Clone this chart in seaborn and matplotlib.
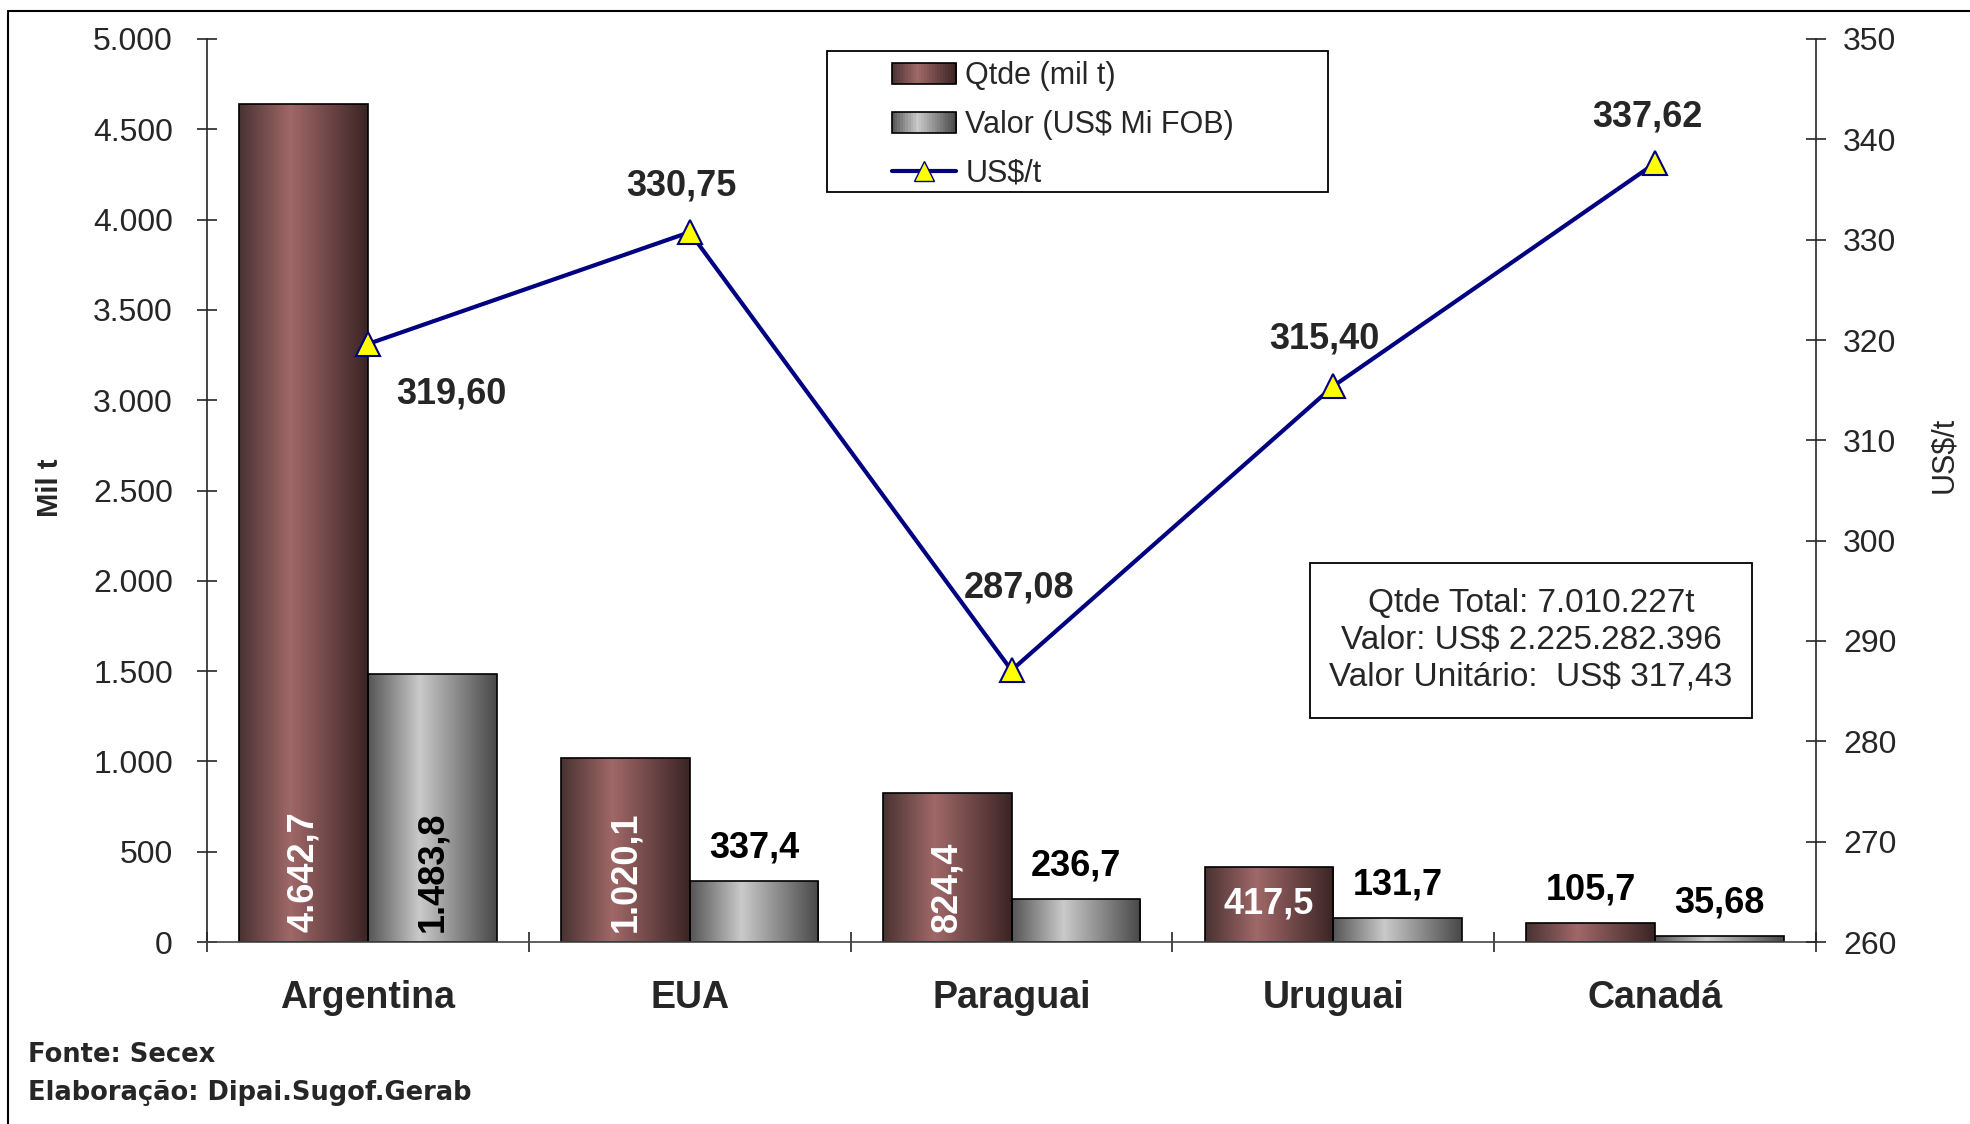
import numpy as np
import pandas as pd
import matplotlib
matplotlib.use("Agg")
import matplotlib.pyplot as plt
from matplotlib.colors import LinearSegmentedColormap
from matplotlib.patches import Rectangle, Patch
from matplotlib.lines import Line2D
from matplotlib.legend_handler import HandlerBase
from matplotlib.ticker import FuncFormatter, FixedLocator
import seaborn as sns

# ---------------------------------------------------------------
#   Exportacoes por destino: quantidade, valor e preco medio
# ---------------------------------------------------------------

paises = ["Argentina", "EUA", "Paraguai", "Uruguai", "Canadá"]
qtde = [4642.7, 1020.1, 824.4, 417.5, 105.7]          # mil t
valor = [1483.8, 337.4, 236.7, 131.7, 35.68]          # US$ Mi FOB
preco = [319.60, 330.75, 287.08, 315.40, 337.62]      # US$/t

serie_labels = ["Qtde (mil t)", "Valor (US$ Mi FOB)", "US$/t"]
caixa_texto = ["Qtde Total: 7.010.227t",
               "Valor: US$ 2.225.282.396",
               "Valor Unitário:  US$ 317,43"]
fonte_texto = ["Fonte: Secex", "Elaboração: Dipai.Sugof.Gerab"]

df = pd.DataFrame({
    "pais": paises * 2,
    "valor": qtde + valor,
    "serie": [serie_labels[0]] * len(paises) + [serie_labels[1]] * len(paises),
})

sns.set_style("ticks")
plt.rcParams["font.family"] = ["Liberation Sans", "DejaVu Sans"]

W, H = 1970, 1124
fig = plt.figure(figsize=(W / 100, H / 100), dpi=100)
ax = fig.add_axes([207 / W, 1 - 942 / H, 1609 / W, 903 / H])

cmap_qtde = LinearSegmentedColormap.from_list(
    "qtde", [(0, "#4a3232"), (0.4, "#a06868"), (1, "#3b2424")])
cmap_valor = LinearSegmentedColormap.from_list(
    "valor", [(0, "#555555"), (0.4, "#cacaca"), (1, "#484848")])

sns.barplot(data=df, x="pais", y="valor", hue="serie",
            palette=["#8a5555", "#a8a8a8"], width=0.8,
            edgecolor="black", linewidth=1.2, errorbar=None,
            legend=False, ax=ax, zorder=2)

# gradient fill on each bar
grad = np.linspace(0, 1, 256).reshape(1, -1)
for cont, cmap in zip(ax.containers, [cmap_qtde, cmap_valor]):
    for bar in cont:
        x0, y0 = bar.get_xy()
        w, h = bar.get_width(), bar.get_height()
        im = ax.imshow(grad, extent=[x0, x0 + w, y0, y0 + h], aspect="auto",
                       cmap=cmap, zorder=2.1, interpolation="bilinear")
        im.set_clip_path(bar)
        bar.set_facecolor("none")
        bar.set_zorder(2.2)

ax.set_xlim(-0.5, len(paises) - 0.5)
ax.set_ylim(0, 5000)
ax.set_aspect("auto")
ax.set_xlabel("")
ax.set_ylabel("Mil t", fontsize=21, fontweight="bold")
ax.yaxis.set_label_coords(-(207 - 64) / 1609, 1 - (488 - 39) / 903)
ax.set_yticks(np.arange(0, 5001, 500))
ax.yaxis.set_major_formatter(FuncFormatter(lambda v, p: f"{v:,.0f}".replace(",", ".")))
ax.tick_params(axis="y", direction="inout", length=15, width=1.2,
               labelsize=23, pad=17)

# category ticks: marks between groups, labels at centers
ax.xaxis.set_major_locator(FixedLocator(np.arange(-0.5, len(paises), 1.0)))
ax.xaxis.set_minor_locator(FixedLocator(np.arange(len(paises))))
ax.set_xticklabels([], minor=False)
ax.set_xticklabels(paises, minor=True, fontsize=27, fontweight="bold")
ax.tick_params(axis="x", which="major", direction="inout", length=15, width=1.2)
ax.tick_params(axis="x", which="minor", length=0, pad=27)

for s in ["top", "right"]:
    ax.spines[s].set_visible(False)
ax.spines["left"].set_linewidth(1.2)
ax.spines["bottom"].set_linewidth(1.2)
ax.spines["bottom"].set_color("#444444")

# bar value labels
def fmt_br(v):
    return f"{v:,}".replace(",", "#").replace(".", ",").replace("#", ".")

for cont, cor_in in zip(ax.containers, ["white", "black"]):
    for bar in cont:
        h = bar.get_height()
        xc = bar.get_x() + bar.get_width() / 2
        txt = fmt_br(h)
        if h >= 800:
            ax.annotate(txt, (xc, 0), xytext=(0, 10), textcoords="offset pixels",
                        rotation=90, ha="center", va="bottom", color=cor_in,
                        fontsize=26, fontweight="bold", zorder=5)
        elif h >= 400:
            ax.annotate(txt, (xc, h / 2), ha="center", va="center", color=cor_in,
                        fontsize=26, fontweight="bold", zorder=5)
        else:
            ax.annotate(txt, (xc, h), xytext=(0, 33), textcoords="offset pixels",
                        ha="center", va="center", color="black",
                        fontsize=26, fontweight="bold", zorder=5)

# price line on the secondary axis
ax2 = ax.twinx()
sns.lineplot(x=paises, y=preco, ax=ax2, sort=False, color="#000080",
             linewidth=3, marker="^", markersize=17, markerfacecolor="#ffff00",
             markeredgecolor="#000080", markeredgewidth=1.5, zorder=4)
ax2.set_ylim(260, 350)
ax2.set_yticks(np.arange(260, 351, 10))
ax2.set_ylabel("US$/t", fontsize=22)
ax2.yaxis.set_label_coords(1 + (1929 - 1816) / 1609, 1 - (455 - 39) / 903)
ax2.tick_params(axis="y", direction="inout", length=15, width=1.2,
                labelsize=23, pad=12)
for s in ["top", "left", "bottom"]:
    ax2.spines[s].set_visible(False)
ax2.spines["right"].set_linewidth(1.2)

offsets = [(83, -50), (-8, 46), (8, 82), (-9, 47), (-8, 46)]
for i, (p, off) in enumerate(zip(preco, offsets)):
    ax2.annotate(f"{p:.2f}".replace(".", ","), (i, p), xytext=off,
                 textcoords="offset pixels", ha="center", va="center",
                 fontsize=26, fontweight="bold", zorder=6)


# legend with gradient swatches
class GradientHandler(HandlerBase):
    def __init__(self, cmap):
        super().__init__()
        self.cmap = cmap

    def create_artists(self, legend, orig_handle, xdescent, ydescent,
                       width, height, fontsize, trans):
        n = 24
        arts = []
        for k in range(n):
            r = Rectangle((-xdescent + width * k / n, -ydescent), width / n + 0.3,
                          height, facecolor=self.cmap((k + 0.5) / n),
                          edgecolor="none", transform=trans)
            arts.append(r)
        arts.append(Rectangle((-xdescent, -ydescent), width, height,
                              facecolor="none", edgecolor="black", lw=1.2,
                              transform=trans))
        return arts


h_qtde = Patch(label=serie_labels[0])
h_valor = Patch(label=serie_labels[1])
h_line = Line2D([], [], color="#000080", lw=3, marker="^", markersize=14,
                markerfacecolor="#ffff00", markeredgecolor="#000080",
                label=serie_labels[2])

fig.patches.append(Rectangle((827 / W, 1 - 192 / H), (1328 - 827) / W, (192 - 51) / H,
                             transform=fig.transFigure, facecolor="white",
                             edgecolor="black", lw=1.3, zorder=7))
leg = fig.legend(handles=[h_qtde, h_valor, h_line],
                 handler_map={h_qtde: GradientHandler(cmap_qtde),
                              h_valor: GradientHandler(cmap_valor)},
                 loc="upper left", bbox_to_anchor=(892 / W, 1 - 61 / H),
                 frameon=False, fontsize=22, handlelength=2.1,
                 handletextpad=0.3, labelspacing=0.62, borderpad=0,
                 borderaxespad=0)
leg.set_zorder(8)

# summary box
fig.patches.append(Rectangle((1310 / W, 1 - 718 / H), (1752 - 1310) / W, (718 - 563) / H,
                             transform=fig.transFigure, facecolor="white",
                             edgecolor="black", lw=1.3, zorder=7))
fig.text(1531 / W, 1 - 641 / H, "\n".join(caixa_texto), ha="center", va="center",
         fontsize=24, linespacing=1.25, zorder=8)

# source notes
fig.text(28 / W, 1 - 1055 / H, fonte_texto[0], ha="left", va="center",
         fontsize=18.5, fontweight="bold", family="DejaVu Sans")
fig.text(28 / W, 1 - 1093 / H, fonte_texto[1], ha="left", va="center",
         fontsize=18.5, fontweight="bold", family="DejaVu Sans")

# outer frame (left and top edges visible)
fig.add_artist(Line2D([8 / W, 8 / W], [0, 1 - 11 / H], transform=fig.transFigure,
                      color="black", lw=1.5))
fig.add_artist(Line2D([8 / W, 1], [1 - 11 / H, 1 - 11 / H], transform=fig.transFigure,
                      color="black", lw=1.5))

fig.savefig("out.png", dpi=100)
